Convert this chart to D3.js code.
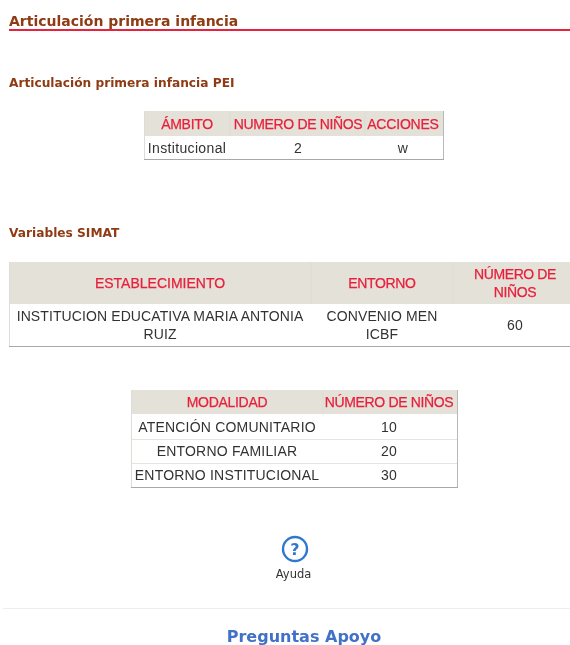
<!DOCTYPE html>
<html>
<head>
<meta charset="utf-8">
<script src="https://d3js.org/d3.v7.min.js"></script>
<style>
html, body { margin: 0; padding: 0; background: #fff; overflow: hidden; }
</style>
</head>
<body>
<svg id="p1" width="570" height="645"></svg>
<script>
var titulo = "Articulación primera infancia";
var subtitulo1 = "Articulación primera infancia PEI";
var subtitulo2 = "Variables SIMAT";

var headers1 = ["ÁMBITO", "NUMERO DE NIÑOS", "ACCIONES"];
var rows1 = [["Institucional", "2", "w"]];

var headers2 = ["ESTABLECIMIENTO", "ENTORNO", "NÚMERO DE|NIÑOS"];
var rows2 = [["INSTITUCION EDUCATIVA MARIA ANTONIA|RUIZ", "CONVENIO MEN|ICBF", "60"]];

var headers3 = ["MODALIDAD", "NÚMERO DE NIÑOS"];
var rows3 = [
    ["ATENCIÓN COMUNITARIO", "10"],
    ["ENTORNO FAMILIAR", "20"],
    ["ENTORNO INSTITUCIONAL", "30"]
];

var root = d3.select("#p1");
var tableFont = "'Liberation Sans', Arial, sans-serif";
var headFont = "'DejaVu Sans', Verdana, sans-serif";

// the reference is a slightly soft screenshot
root.append("filter")
    .attr("id", "soft")
    .attr("filterUnits", "userSpaceOnUse")
    .attr("x", 0).attr("y", 0).attr("width", 570).attr("height", 645)
    .append("feGaussianBlur")
    .attr("stdDeviation", 0.35);

var svg1 = root.append("g").attr("filter", "url(#soft)");

svg1.append("rect")
    .attr("width", 570).attr("height", 645)
    .style("fill", "#fff");

function drawTable(headers, rows, edges, ys, centers, headSpacing, bodySpacing) {
    // ys[0] top of header, ys[1] top of first row, and so on
    var g = svg1.append("g");
    var x0 = edges[0], x1 = edges[edges.length - 1];
    var rowY = d3.scaleOrdinal().domain(d3.range(ys.length)).range(ys);
    var colX = d3.scaleOrdinal().domain(d3.range(centers.length)).range(centers);

    g.append("rect")
        .attr("x", x0).attr("y", ys[0])
        .attr("width", x1 - x0).attr("height", ys[1] - ys[0])
        .style("fill", "#e4e1d8");

    // light column separators in the header
    g.selectAll("line.sep")
        .data(edges.slice(1, -1))
        .enter().append("line")
        .attr("x1", function(d) { return d; })
        .attr("x2", function(d) { return d; })
        .attr("y1", ys[0]).attr("y2", ys[1])
        .style("stroke", "#dedbd2");

    // row separators
    g.selectAll("line.row")
        .data(d3.range(2, ys.length - 1))
        .enter().append("line")
        .attr("x1", x0).attr("x2", x1)
        .attr("y1", function(d) { return rowY(d) + 0.5; })
        .attr("y2", function(d) { return rowY(d) + 0.5; })
        .style("stroke", "#e6e4dc");

    // outer border, grey and heavier at bottom and right
    var yEnd = ys[ys.length - 1];
    g.append("line").attr("x1", x0).attr("x2", x1 + 1).attr("y1", yEnd + 0.5).attr("y2", yEnd + 0.5)
        .style("stroke", "#a8a8a8").style("stroke-width", 1.2);
    g.append("line").attr("x1", x0 + 0.5).attr("x2", x0 + 0.5).attr("y1", ys[0]).attr("y2", yEnd)
        .style("stroke", "#dcdcd8");
    g.append("line").attr("x1", x1 + 0.5).attr("x2", x1 + 0.5).attr("y1", ys[0]).attr("y2", yEnd)
        .style("stroke", "#b8b8b8");

    function cell(txt, col, row, color, spacing, heavy) {
        var parts = txt.split("|");
        var mid = (rowY(row) + rowY(row + 1)) / 2;
        parts.forEach(function(p, i) {
            g.append("text")
                .attr("x", colX(col))
                .attr("y", mid + 5 + (i - (parts.length - 1) / 2) * 18)
                .attr("text-anchor", "middle")
                .attr("font-family", tableFont)
                .attr("font-size", "14px")
                .attr("letter-spacing", spacing)
                .attr("fill", color)
                .attr("stroke", heavy ? color : "none")
                .attr("stroke-width", heavy ? 0.25 : 0)
                .text(p);
        });
    }

    headers.forEach(function(h, c) {
        cell(h, c, 0, "#e8203c", headSpacing[c], true);
    });
    rows.forEach(function(r, i) {
        r.forEach(function(v, c) {
            cell(v, c, i + 1, "#333333", bodySpacing, false);
        });
    });
}

// page title
svg1.append("text")
    .attr("x", 9).attr("y", 26)
    .text(titulo)
    .attr("font-family", headFont)
    .attr("font-weight", "bold")
    .attr("font-size", "14px")
    .attr("fill", "#8e3b12");
svg1.append("rect")
    .attr("x", 9).attr("y", 29)
    .attr("width", 561).attr("height", 2)
    .style("fill", "#e8203c");

svg1.append("text")
    .attr("x", 9).attr("y", 87)
    .text(subtitulo1)
    .attr("font-family", headFont)
    .attr("font-weight", "bold")
    .attr("font-size", "12.2px")
    .attr("fill", "#8e3b12");

drawTable(headers1, rows1, [144, 230, 365, 443], [111, 136, 159], [187, 298, 403], [-0.3, -0.35, -0.2], 0.35);

svg1.append("text")
    .attr("x", 9).attr("y", 237)
    .text(subtitulo2)
    .attr("font-family", headFont)
    .attr("font-weight", "bold")
    .attr("font-size", "12.2px")
    .attr("fill", "#8e3b12");

drawTable(headers2, rows2, [9, 311, 453, 570], [262, 304, 346], [160, 382, 515], [0, -0.35, -0.4], 0.1);

drawTable(headers3, rows3, [131, 323, 457], [390, 414, 439, 463, 487], [227, 389], [-0.3, -0.35], 0.2);

// help icon
var ayuda = svg1.append("g").attr("transform", "translate(295,549)");
ayuda.append("circle")
    .attr("r", 12)
    .style("fill", "none")
    .style("stroke", "#2f78d0")
    .style("stroke-width", 2.4);
ayuda.append("text")
    .attr("y", 6)
    .attr("text-anchor", "middle")
    .attr("font-family", headFont)
    .attr("font-weight", "bold")
    .attr("font-size", "16px")
    .attr("fill", "#2f78d0")
    .text("?");

svg1.append("text")
    .attr("x", 293.5).attr("y", 578)
    .attr("text-anchor", "middle")
    .attr("font-family", headFont)
    .attr("font-size", "11.5px")
    .attr("fill", "#333")
    .text("Ayuda");

svg1.append("line")
    .attr("x1", 3).attr("x2", 570)
    .attr("y1", 608.5).attr("y2", 608.5)
    .style("stroke", "#f0eee8");

svg1.append("text")
    .attr("x", 304).attr("y", 642)
    .attr("text-anchor", "middle")
    .attr("font-family", headFont)
    .attr("font-weight", "bold")
    .attr("font-size", "16px")
    .attr("fill", "#4272c8")
    .text("Preguntas Apoyo");
</script>
</body>
</html>
